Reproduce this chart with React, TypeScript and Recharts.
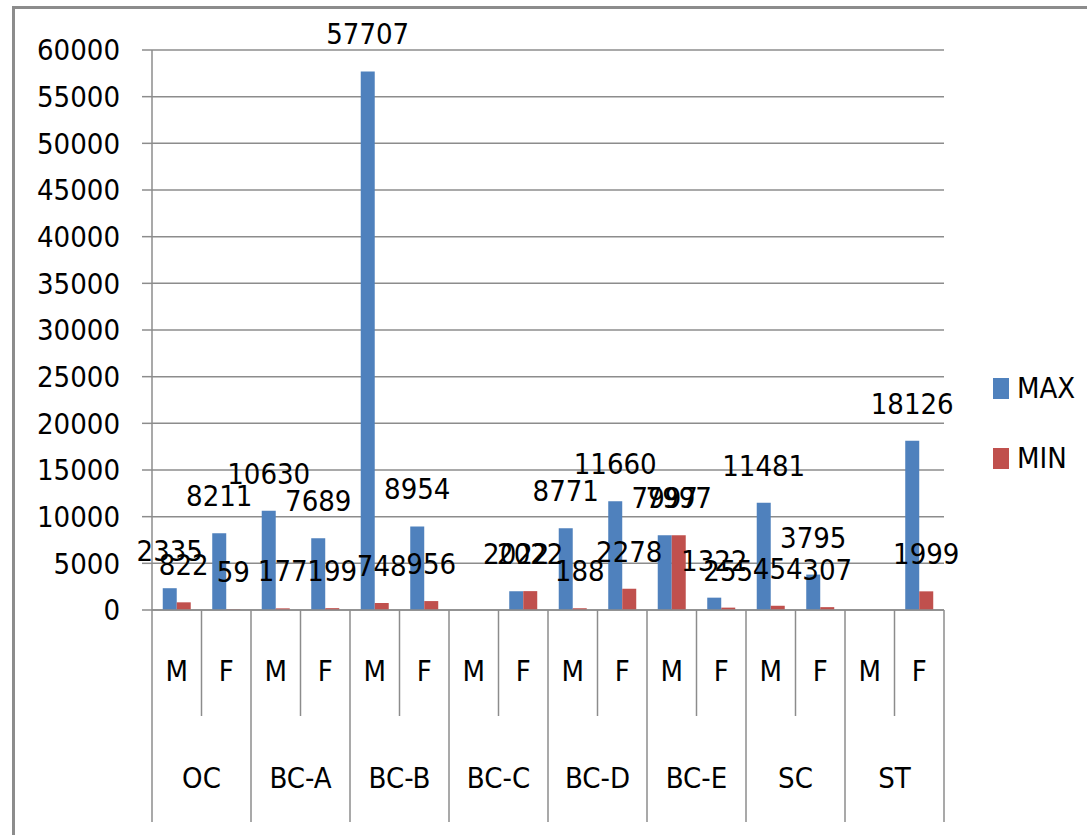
import { BarChart, Bar, XAxis, YAxis, CartesianGrid, Legend, LabelList } from 'recharts';

const groups = ['OC', 'OC', 'BC-A', 'BC-A', 'BC-B', 'BC-B', 'BC-C', 'BC-C', 'BC-D', 'BC-D', 'BC-E', 'BC-E', 'SC', 'SC', 'ST', 'ST'];
const sexes = ['M', 'F', 'M', 'F', 'M', 'F', 'M', 'F', 'M', 'F', 'M', 'F', 'M', 'F', 'M', 'F'];
const maxValues = [2335, 8211, 10630, 7689, 57707, 8954, 0, 2022, 8771, 11660, 7997, 1322, 11481, 3795, 0, 18126];
const minValues = [822, 59, 177, 199, 748, 956, 0, 2022, 188, 2278, 7997, 255, 454, 307, 0, 1999];
const yTicks = [0, 5000, 10000, 15000, 20000, 25000, 30000, 35000, 40000, 45000, 50000, 55000, 60000];

const data = sexes.map((sex, i) => ({
  key: `${groups[i]}|${sex}`,
  sex,
  group: groups[i],
  max: maxValues[i],
  min: minValues[i],
}));

const W = 1087;
const H = 835;
const PLOT_LEFT = 152;
const PLOT_RIGHT = 944;
const PLOT_TOP = 50;
const PLOT_BOTTOM = 610;
const BAND = (PLOT_RIGHT - PLOT_LEFT) / data.length;
const FONT = '"Liberation Sans Narrow", "DejaVu Sans Condensed", sans-serif';
const FS = 29;
const GRID = '#8c8c8c';

const CategoryTick = ({ x, payload }: any) => {
  const i = payload.index;
  const row = data[i];
  const isLast = i % 2 === 1;
  const right = x + BAND / 2;
  return (
    <g>
      <text x={x} y={681} textAnchor="middle" fontSize={FS} fontFamily={FONT} fill="#000">
        {row.sex}
      </text>
      {i === 0 && (
        <line x1={x - BAND / 2} x2={x - BAND / 2} y1={PLOT_BOTTOM} y2={822} stroke={GRID} strokeWidth={1.5} />
      )}
      <line x1={right} x2={right} y1={PLOT_BOTTOM} y2={isLast ? 822 : 716} stroke={GRID} strokeWidth={1.5} />
      {isLast && (
        <text x={x - BAND / 2} y={788} textAnchor="middle" fontSize={FS} fontFamily={FONT} fill="#000">
          {row.group}
        </text>
      )}
    </g>
  );
};

const LegendContent = () => (
  <div style={{ fontFamily: FONT, fontSize: FS, color: '#000', lineHeight: '36px' }}>
    {[
      { name: 'MAX', color: '#4F81BD' },
      { name: 'MIN', color: '#C0504D' },
    ].map((item, i) => (
      <div key={item.name} style={{ display: 'flex', alignItems: 'center', marginBottom: i === 0 ? 34 : 0 }}>
        <span style={{ display: 'inline-block', width: 16, height: 21, background: item.color, marginRight: 8 }} />
        <span>{item.name}</span>
      </div>
    ))}
  </div>
);

export default function App() {
  return (
    <div style={{ position: 'absolute', left: 0, top: 0, width: W, height: H, background: '#fff' }}>
      <div
        style={{
          position: 'absolute',
          left: 12,
          top: 6,
          width: W,
          height: H,
          borderLeft: '3px solid #8c8c8c',
          borderTop: '3px solid #8c8c8c',
        }}
      />
      <BarChart
        width={W}
        height={H}
        data={data}
        margin={{ top: PLOT_TOP, right: W - PLOT_RIGHT, left: 12, bottom: 0 }}
        barCategoryGap="21.7%"
        barGap={0}
      >
        <CartesianGrid horizontal vertical={false} stroke={GRID} strokeWidth={1.5} />
        <XAxis
          dataKey="key"
          height={H - PLOT_BOTTOM}
          interval={0}
          tick={<CategoryTick />}
          tickLine={false}
          axisLine={{ stroke: GRID, strokeWidth: 1.5 }}
        />
        <YAxis
          width={PLOT_LEFT - 12}
          domain={[0, 60000]}
          ticks={yTicks}
          interval={0}
          tickSize={10}
          tickMargin={22}
          tickLine={{ stroke: GRID, strokeWidth: 1.5 }}
          axisLine={{ stroke: GRID, strokeWidth: 1.5 }}
          tick={{ fill: '#000', fontSize: FS, fontFamily: FONT }}
        />
        <Legend
          layout="vertical"
          align="center"
          verticalAlign="middle"
          content={<LegendContent />}
          wrapperStyle={{ left: 993, top: 370, width: 94 }}
        />
        <Bar dataKey="max" name="MAX" fill="#4F81BD" isAnimationActive={false}>
          <LabelList dataKey="max" position="top" offset={27} fill="#000" fontSize={FS} fontFamily={FONT} />
        </Bar>
        <Bar dataKey="min" name="MIN" fill="#C0504D" isAnimationActive={false}>
          <LabelList dataKey="min" position="top" offset={27} fill="#000" fontSize={FS} fontFamily={FONT} />
        </Bar>
      </BarChart>
    </div>
  );
}
